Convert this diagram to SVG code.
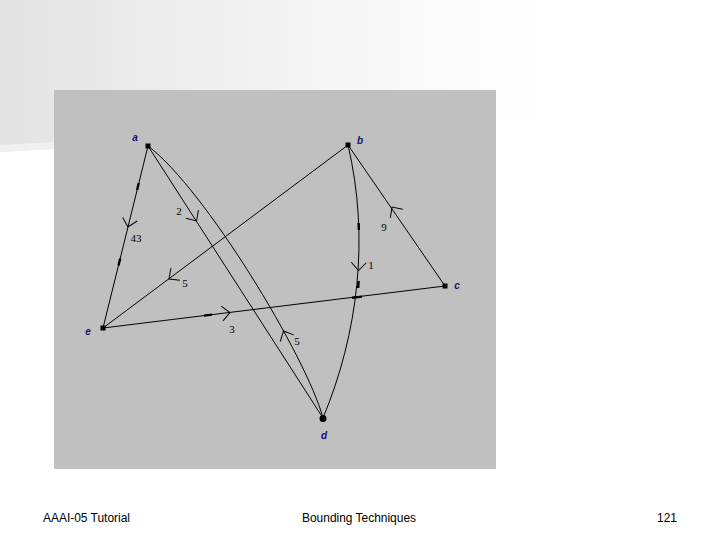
<svg xmlns="http://www.w3.org/2000/svg" width="720" height="540" viewBox="0 0 720 540">
  <defs>
    <linearGradient id="bg" x1="0" y1="0" x2="540" y2="0" gradientUnits="userSpaceOnUse">
      <stop offset="0" stop-color="#e3e3e3"/>
      <stop offset="0.55" stop-color="#f4f4f4"/>
      <stop offset="1" stop-color="#ffffff"/>
    </linearGradient>
    <path id="chev" d="M-8,-7.5 L0,0 L-8,7.5" fill="none" stroke="#000" stroke-width="1"/>
  </defs>
  <style>
    .edge { fill: none; stroke: #000; stroke-width: 1; }
    .tick { stroke: #000; stroke-width: 2.4; }
    .node { fill: #000; }
    .nlabel { font-family: "Liberation Sans", Arial, sans-serif; font-size: 10px; font-weight: bold; font-style: italic; fill: #12127a; text-anchor: middle; }
    .elabel { font-family: "Liberation Serif", "Times New Roman", serif; font-size: 11px; fill: #000; text-anchor: middle; }
    .foot { font-family: "Liberation Sans", Arial, sans-serif; font-size: 12px; fill: #000; }
  </style>

  <!-- background -->
  <rect x="0" y="0" width="720" height="540" fill="#ffffff"/>
  <path d="M0,0 H540 V117 L0,152 Z" fill="url(#bg)"/>
  <path d="M0,145 L54,142 L54,149 L0,152 Z" fill="#f0f0f0"/>
  <rect x="54" y="90" width="442" height="379" fill="#c0c0c0"/>

  <!-- connectors -->
  <g id="connectors">
    <line class="edge" x1="148" y1="146" x2="103" y2="328"/>
    <line class="edge" x1="148" y1="146" x2="323" y2="418"/>
    <path class="edge" d="M148,146 C204.8,188.7 306.7,357.3 323,418"/>
    <line class="edge" x1="348" y1="145" x2="103" y2="328"/>
    <line class="edge" x1="103" y1="328" x2="445" y2="286"/>
    <path class="edge" d="M348,145 C369.7,237.5 358.3,333 323,418"/>
    <line class="edge" x1="445" y1="286" x2="348" y2="145"/>

    <!-- thick marks -->
    <line class="tick" x1="138.8" y1="183" x2="137.1" y2="190"/>
    <line class="tick" x1="120.2" y1="258.5" x2="118.5" y2="265.5"/>
    <line class="tick" x1="204" y1="315.6" x2="212" y2="314.6"/>
    <line class="tick" x1="358.6" y1="223" x2="358.9" y2="230"/>
    <line class="tick" x1="358.6" y1="281" x2="358.2" y2="288"/>
    <line class="tick" x1="352" y1="297.8" x2="362" y2="296.6"/>

    <!-- arrowheads -->
    <use href="#chev" transform="translate(128,227) rotate(103.9)"/>
    <use href="#chev" transform="translate(196.5,221) rotate(57.2)"/>
    <use href="#chev" transform="translate(283.5,331) rotate(-116)"/>
    <use href="#chev" transform="translate(169,279) rotate(143.2)"/>
    <use href="#chev" transform="translate(230,312.5) rotate(-7)"/>
    <use href="#chev" transform="translate(358.5,270.5) rotate(92)"/>
    <use href="#chev" transform="translate(392,207) rotate(-124.5)"/>

    <!-- edge labels -->
    <text class="elabel" x="136" y="242">43</text>
    <text class="elabel" x="179" y="215">2</text>
    <text class="elabel" x="185" y="287">5</text>
    <text class="elabel" x="232" y="333">3</text>
    <text class="elabel" x="297" y="345">5</text>
    <text class="elabel" x="384" y="231">9</text>
    <text class="elabel" x="371" y="269">1</text>
  </g>

  <!-- nodes -->
  <g id="node-a">
    <rect class="node" x="145.5" y="143.5" width="5" height="5"/>
    <text class="nlabel" x="135" y="141">a</text>
  </g>
  <g id="node-b">
    <rect class="node" x="345.5" y="142.5" width="5" height="5"/>
    <text class="nlabel" x="360" y="144">b</text>
  </g>
  <g id="node-c">
    <rect class="node" x="442.5" y="283.5" width="5" height="5"/>
    <text class="nlabel" x="457" y="289">c</text>
  </g>
  <g id="node-d">
    <circle class="node" cx="323" cy="418.5" r="3.5"/>
    <text class="nlabel" x="324" y="439">d</text>
  </g>
  <g id="node-e">
    <rect class="node" x="100.5" y="325.5" width="5" height="5"/>
    <text class="nlabel" x="88" y="335">e</text>
  </g>

  <!-- footer -->
  <text class="foot" x="43" y="522" textLength="87" lengthAdjust="spacingAndGlyphs">AAAI-05 Tutorial</text>
  <text class="foot" x="302" y="522" textLength="114" lengthAdjust="spacingAndGlyphs">Bounding Techniques</text>
  <text class="foot" x="657" y="522" textLength="20" lengthAdjust="spacingAndGlyphs">121</text>
</svg>
